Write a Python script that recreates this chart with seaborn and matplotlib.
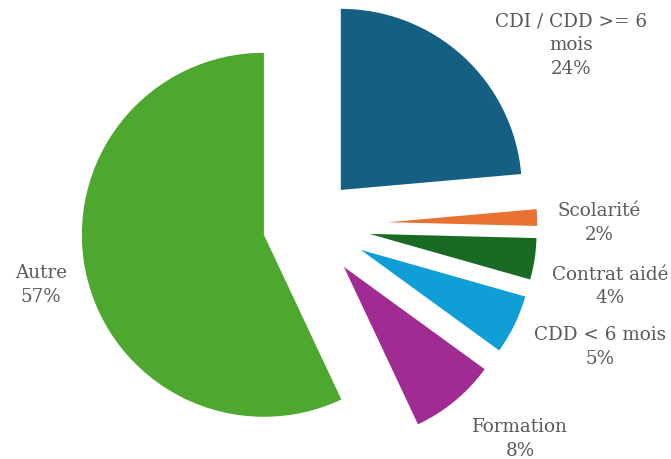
import matplotlib
matplotlib.use("Agg")
import matplotlib.pyplot as plt
import seaborn as sns

categories = ["CDI / CDD >= 6\nmois", "Scolarité", "Contrat aidé", "CDD < 6 mois", "Formation", "Autre"]
values = [23.6, 1.8, 4.0, 5.6, 8.0, 57.0]
pct_labels = ["24%", "2%", "4%", "5%", "8%", "57%"]

colors = ["#156082", "#E97132", "#196B24", "#0F9ED5", "#A02B93", "#4EA72E"]
explode = [0.259, 0.435, 0.336, 0.316, 0.301, 0.254]
radii = [0.995, 0.819, 0.918, 0.94, 0.956, 1.0]
# label block centres in pixel coordinates (x, y from top)
label_px = [(571.5, 45), (599, 223), (610, 286.5), (600, 347), (520, 439), (41, 285)]

sns.set_theme(style="white")
plt.rcParams["font.family"] = ["DejaVu Serif"]

W, H = 671, 460
cx, cy, R = 309, 225.7, 182
fig = plt.figure(figsize=(W / 100, H / 100), dpi=100)
ax = fig.add_axes([0, 0, 1, 1])
wedges, _ = ax.pie(values, colors=colors, explode=explode, startangle=90, counterclock=False,
                   radius=1, center=(0, 0), wedgeprops=dict(linewidth=0))
for w, r in zip(wedges, radii):
    w.set_radius(r)
ax.set_xlim(-cx / R, (W - cx) / R)
ax.set_ylim((cy - H) / R, cy / R)
ax.set_aspect("auto")
ax.axis("off")

for cat, pct, (px, py) in zip(categories, pct_labels, label_px):
    ax.text(px / W, 1 - py / H, f"{cat}\n{pct}", transform=fig.transFigure,
            ha="center", va="center", fontsize=13.2, color="#595959", linespacing=1.4)

fig.savefig("out.png", dpi=100)
